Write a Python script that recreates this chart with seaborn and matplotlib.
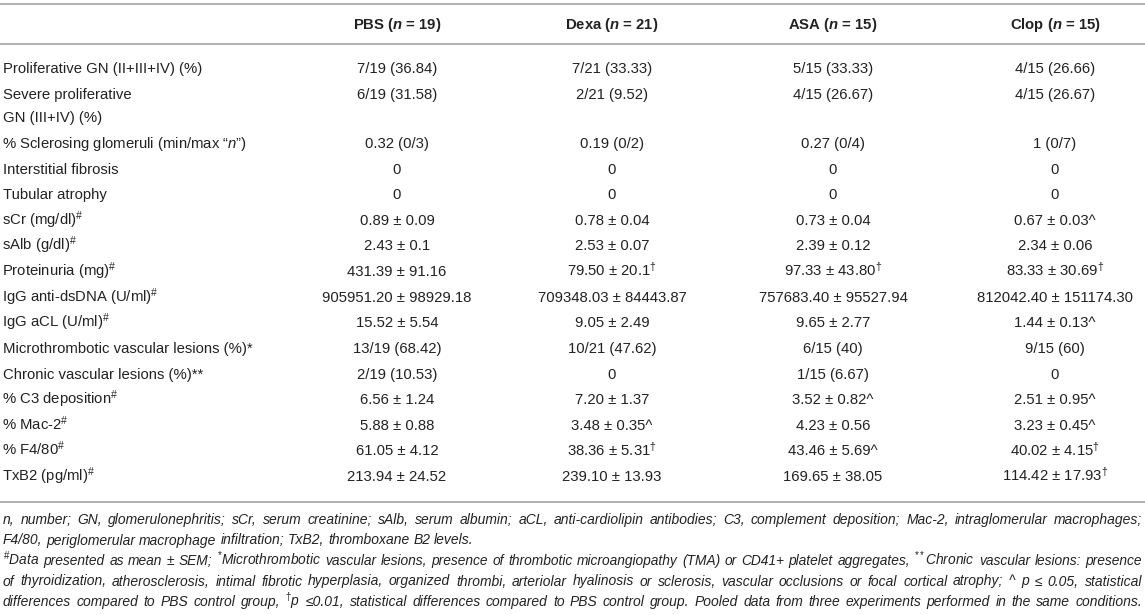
import matplotlib
matplotlib.use("Agg")
import matplotlib.pyplot as plt
from matplotlib.font_manager import FontProperties
import seaborn as sns
import pandas as pd

# ---------------- data ----------------
groups = ["PBS", "Dexa", "ASA", "Clop"]
group_n = [19, 21, 15, 15]

row_labels = [
    "Proliferative GN (II+III+IV) (%)",
    "Severe proliferative\nGN (III+IV) (%)",
    "% Sclerosing glomeruli (min/max \u201c$\\mathit{n}$\u201d)",
    "Interstitial fibrosis",
    "Tubular atrophy",
    "sCr (mg/dl)$^{\\#}$",
    "sAlb (g/dl)$^{\\#}$",
    "Proteinuria (mg)$^{\\#}$",
    "IgG anti-dsDNA (U/ml)$^{\\#}$",
    "IgG aCL (U/ml)$^{\\#}$",
    "Microthrombotic vascular lesions (%)*",
    "Chronic vascular lesions (%)**",
    "% C3 deposition$^{\\#}$",
    "% Mac-2$^{\\#}$",
    "% F4/80$^{\\#}$",
    "TxB2 (pg/ml)$^{\\#}$",
]

pbs = ["7/19 (36.84)", "6/19 (31.58)", "0.32 (0/3)", "0", "0",
       "0.89 \u00b1 0.09", "2.43 \u00b1 0.1", "431.39 \u00b1 91.16",
       "905951.20 \u00b1 98929.18", "15.52 \u00b1 5.54", "13/19 (68.42)",
       "2/19 (10.53)", "6.56 \u00b1 1.24", "5.88 \u00b1 0.88",
       "61.05 \u00b1 4.12", "213.94 \u00b1 24.52"]
dexa = ["7/21 (33.33)", "2/21 (9.52)", "0.19 (0/2)", "0", "0",
        "0.78 \u00b1 0.04", "2.53 \u00b1 0.07", "79.50 \u00b1 20.1$^{\\dagger}$",
        "709348.03 \u00b1 84443.87", "9.05 \u00b1 2.49", "10/21 (47.62)",
        "0", "7.20 \u00b1 1.37", "3.48 \u00b1 0.35^",
        "38.36 \u00b1 5.31$^{\\dagger}$", "239.10 \u00b1 13.93"]
asa = ["5/15 (33.33)", "4/15 (26.67)", "0.27 (0/4)", "0", "0",
       "0.73 \u00b1 0.04", "2.39 \u00b1 0.12", "97.33 \u00b1 43.80$^{\\dagger}$",
       "757683.40 \u00b1 95527.94", "9.65 \u00b1 2.77", "6/15 (40)",
       "1/15 (6.67)", "3.52 \u00b1 0.82^", "4.23 \u00b1 0.56",
       "43.46 \u00b1 5.69^", "169.65 \u00b1 38.05"]
clop = ["4/15 (26.66)", "4/15 (26.67)", "1 (0/7)", "0", "0",
        "0.67 \u00b1 0.03^", "2.34 \u00b1 0.06", "83.33 \u00b1 30.69$^{\\dagger}$",
        "812042.40 \u00b1 151174.30", "1.44 \u00b1 0.13^", "9/15 (60)",
        "0", "2.51 \u00b1 0.95^", "3.23 \u00b1 0.45^",
        "40.02 \u00b1 4.15$^{\\dagger}$", "114.42 \u00b1 17.93$^{\\dagger}$"]

footnote_lines = [
    "n, number; GN, glomerulonephritis; sCr, serum creatinine; sAlb, serum albumin; aCL, anti-cardiolipin antibodies; C3, complement deposition; Mac-2, intraglomerular macrophages;",
    "F4/80, periglomerular macrophage infiltration; TxB2, thromboxane B2 levels.",
    "$^{\\#}$Data presented as mean \u00b1 SEM; $^{*}$Microthrombotic vascular lesions, presence of thrombotic microangiopathy (TMA) or CD41+ platelet aggregates, $^{**}$Chronic vascular lesions: presence",
    "of thyroidization, atherosclerosis, intimal fibrotic hyperplasia, organized thrombi, arteriolar hyalinosis or sclerosis, vascular occlusions or focal cortical atrophy; ^ p \u2264 0.05, statistical",
    "differences compared to PBS control group, $^{\\dagger}$p \u22640.01, statistical differences compared to PBS control group. Pooled data from three experiments performed in the same conditions.",
]
justified = [True, False, True, True, True]

# ---------------- style ----------------
sns.set_theme(style="white")
plt.rcParams["font.family"] = ["Liberation Sans", "DejaVu Sans"]
plt.rcParams.update({
    "mathtext.fontset": "custom",
    "mathtext.rm": "Liberation Sans",
    "mathtext.it": "Liberation Sans:italic",
    "mathtext.bf": "Liberation Sans:italic:bold",
    "mathtext.default": "rm",
})

TEXT = "#222222"
RULE = "#ababab"
FS = 10.7

df = pd.DataFrame({"label": row_labels, "PBS": pbs, "Dexa": dexa,
                   "ASA": asa, "Clop": clop})

W, H = 1145, 615
fig = plt.figure(figsize=(W / 100, H / 100), dpi=100)
fig.patch.set_facecolor("white")
ax = fig.add_axes([0, 0, 1, 1])
ax.set_xlim(0, W)
ax.set_ylim(H, 0)
ax.axis("off")

# layout
col_x = [397, 612, 833, 1055]
label_x = 3
header_y = 24
row_y = [68, 94] + [143 + 25.62 * k for k in range(14)]
base_off = 5

ax.hlines([4, 44, 502], 0, W, colors=RULE, lw=1.3)

for g, n, x in zip(groups, group_n, col_x):
    ax.text(x, header_y + base_off, f"{g} ($\\mathbf{{n}}$ = {n})",
            ha="center", va="baseline", fontsize=FS, fontweight="bold",
            color=TEXT)

for i, row in df.iterrows():
    y = row_y[i]
    for j, line in enumerate(row["label"].split("\n")):
        lx = label_x - (1.5 if "$" in line else 0)
        ax.text(lx, y + base_off + 23 * j, line, ha="left",
                va="baseline", fontsize=FS, color=TEXT)
    for g, x in zip(groups, col_x):
        ax.text(x, y + base_off, row[g], ha="center", va="baseline",
                fontsize=FS, color=TEXT)

# ---------------- footnotes (justified) ----------------
renderer = fig.canvas.get_renderer()


def make_prop(fs):
    return FontProperties(family=["Liberation Sans", "DejaVu Sans"],
                          style="italic", size=fs)


def text_width(s, prop):
    t = ax.text(0, 0, s, fontproperties=prop)
    w = t.get_window_extent(renderer).width
    t.remove()
    return w


def natural_width(line, prop):
    words = line.split(" ")
    sp = text_width("a a", prop) - text_width("aa", prop)
    return sum(text_width(w, prop) for w in words) + sp * (len(words) - 1)


x0, x1 = 3, 1142
avail = x1 - x0 - 3
FMAX = 10.0
fn_y = [520, 540.5, 561, 581.5, 602]

sizes = []
for line in footnote_lines:
    fs = FMAX
    for _ in range(3):
        nat = natural_width(line, make_prop(fs))
        fs = min(FMAX, fs * avail / nat)
    sizes.append(fs)
sizes[1] = sizes[0]   # line 2 shares line 1's size

for line, y, just, fs in zip(footnote_lines, fn_y, justified, sizes):
    prop = make_prop(fs)
    words = line.split(" ")
    widths = [text_width(w, prop) for w in words]
    space = text_width("a a", prop) - text_width("aa", prop)
    if just and len(words) > 1:
        gap = (x1 - x0 - sum(widths)) / (len(words) - 1)
    else:
        gap = space
    x = x0
    for w, wd in zip(words, widths):
        ax.text(x, y + 4, w, ha="left", va="baseline", fontproperties=prop,
                color=TEXT)
        x += wd + gap

fig.savefig("out.png", dpi=100, facecolor="white")
